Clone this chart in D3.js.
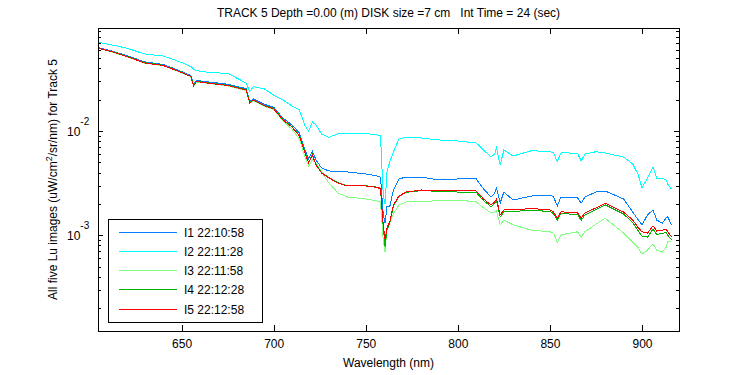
<!DOCTYPE html>
<html>
<head>
<meta charset="utf-8">
<script src="https://cdn.jsdelivr.net/npm/d3@7/dist/d3.min.js"></script>
<style>
  body { margin: 0; background: #fff; }
  svg text { font-family: "Liberation Sans", Arial, Helvetica, sans-serif; fill: #000; }
</style>
</head>
<body>
<svg width="750" height="375"></svg>
<script>

// Wavelength grid (nm)
let wavelength = [605, 612, 620, 630, 640, 650, 655, 656.5, 658, 665,
  675, 685, 687, 689, 695, 700, 705, 710, 714, 717,
  719, 721, 723, 726, 730, 735, 740, 750, 755, 758,
  759.5, 760.5, 761.5, 763, 765, 768, 772, 780, 790, 800,
  810, 814, 818, 820, 821, 823, 825, 830, 840, 850,
  852, 854, 856, 865, 867, 869, 875, 880, 890, 895,
  898, 900, 903, 906, 908, 911, 913, 914, 916];

// Lu for each image (uW/cm^2/sr/nm)
let luI1 = [0.0630, 0.0585, 0.0530, 0.0460, 0.0435, 0.0372, 0.0340, 0.0278, 0.0305, 0.0295,
  0.0281, 0.0255, 0.0192, 0.0204, 0.0180, 0.0169, 0.0133, 0.0114, 0.00957, 0.00657,
  0.00539, 0.00643, 0.00527, 0.00442, 0.00414, 0.00407, 0.00405, 0.00387, 0.00374, 0.00362,
  0.00157, 0.00131, 0.00187, 0.00187, 0.00272, 0.00347, 0.00362, 0.00362, 0.00339, 0.00347,
  0.00347, 0.00278, 0.00233, 0.00254, 0.00284, 0.00204, 0.00260, 0.00218, 0.00238, 0.00243,
  0.00233, 0.00191, 0.00233, 0.00228, 0.00204, 0.00233, 0.00260, 0.00266, 0.00223, 0.00167,
  0.00140, 0.00126, 0.00157, 0.00175, 0.00140, 0.00131, 0.00146, 0.00150, 0.00126];

let luI2 = [0.0709, 0.0668, 0.0625, 0.0547, 0.0524, 0.0454, 0.0415, 0.0393, 0.0379, 0.0364,
  0.0357, 0.0289, 0.0239, 0.0266, 0.0253, 0.0221, 0.0198, 0.0174, 0.0159, 0.0112,
  0.0100, 0.0122, 0.0114, 0.00936, 0.00866, 0.00946, 0.00936, 0.00946, 0.00926, 0.00896,
  0.00243, 0.00200, 0.00405, 0.00504, 0.00629, 0.00838, 0.00876, 0.00857, 0.00820, 0.00802,
  0.00767, 0.00657, 0.00563, 0.00602, 0.00687, 0.00472, 0.00657, 0.00576, 0.00647, 0.00636,
  0.00615, 0.00508, 0.00619, 0.00611, 0.00516, 0.00602, 0.00633, 0.00615, 0.00563, 0.00483,
  0.00379, 0.00284, 0.00354, 0.00452, 0.00354, 0.00352, 0.00339, 0.00310, 0.00278];

let luI3 = [0.0619, 0.0574, 0.0518, 0.0447, 0.0423, 0.0362, 0.0331, 0.0268, 0.0296, 0.0285,
  0.0271, 0.0245, 0.0184, 0.0196, 0.0172, 0.0161, 0.0125, 0.0104, 0.00838, 0.00563,
  0.00462, 0.00527, 0.00493, 0.00405, 0.00317, 0.00254, 0.00233, 0.00223, 0.00216, 0.00209,
  0.00090, 0.00069, 0.00118, 0.00134, 0.00160, 0.00195, 0.00209, 0.00209, 0.00216, 0.00218,
  0.00209, 0.00183, 0.00164, 0.00167, 0.00171, 0.00126, 0.00140, 0.00126, 0.00112, 0.00108,
  0.00105, 0.00086, 0.00101, 0.00108, 0.00096, 0.00108, 0.00128, 0.00146, 0.00105, 0.00086,
  0.00076, 0.00066, 0.00072, 0.00083, 0.00072, 0.00069, 0.00076, 0.00088, 0.00088];

let luI4 = [0.0624, 0.0580, 0.0523, 0.0452, 0.0428, 0.0366, 0.0335, 0.0272, 0.0300, 0.0289,
  0.0275, 0.0249, 0.0188, 0.0200, 0.0176, 0.0165, 0.0129, 0.0110, 0.00905, 0.00622,
  0.00498, 0.00595, 0.00478, 0.00400, 0.00357, 0.00320, 0.00299, 0.00299, 0.00292, 0.00283,
  0.00120, 0.00078, 0.00112, 0.00130, 0.00190, 0.00236, 0.00258, 0.00268, 0.00264, 0.00260,
  0.00258, 0.00215, 0.00188, 0.00202, 0.00216, 0.00150, 0.00168, 0.00169, 0.00174, 0.00169,
  0.00161, 0.00139, 0.00162, 0.00158, 0.00139, 0.00157, 0.00176, 0.00196, 0.00160, 0.00132,
  0.00110, 0.00098, 0.00096, 0.00115, 0.00102, 0.00104, 0.00107, 0.00100, 0.00091];

let luI5 = [0.0621, 0.0576, 0.0520, 0.0449, 0.0425, 0.0364, 0.0333, 0.0270, 0.0298, 0.0287,
  0.0273, 0.0247, 0.0186, 0.0198, 0.0174, 0.0163, 0.0128, 0.0109, 0.00896, 0.00615,
  0.00493, 0.00589, 0.00472, 0.00396, 0.00354, 0.00317, 0.00297, 0.00297, 0.00290, 0.00281,
  0.00126, 0.00090, 0.00118, 0.00134, 0.00195, 0.00238, 0.00260, 0.00272, 0.00269, 0.00266,
  0.00266, 0.00223, 0.00195, 0.00209, 0.00223, 0.00157, 0.00175, 0.00175, 0.00181, 0.00175,
  0.00167, 0.00146, 0.00168, 0.00164, 0.00146, 0.00164, 0.00183, 0.00203, 0.00167, 0.00140,
  0.00118, 0.00108, 0.00105, 0.00123, 0.00110, 0.00112, 0.00115, 0.00108, 0.00097];

let seriesNames = ['I1 22:10:58', 'I2 22:11:28', 'I3 22:11:58', 'I4 22:12:28', 'I5 22:12:58'];
let seriesColors = ['#0080ff', '#00ffff', '#80ff80', '#00b400', '#ff0000'];
let seriesValues = [luI1, luI2, luI3, luI4, luI5];

let xTicks = [650, 700, 750, 800, 850, 900];
let yMajorTicks = [1e-3, 1e-2];
let yMajorLabels = ['-3', '-2'];

let titleText = 'TRACK 5 Depth =0.00 (m) DISK size =7 cm   Int Time = 24 (sec)';
let xLabelText = 'Wavelength (nm)';

let svg = d3.select('svg');

// Plot box
let boxLeft = 98, boxRight = 679, boxTop = 28, boxBottom = 331;

let x = d3.scaleLinear().domain([604.6, 920.1]).range([boxLeft, boxRight]);
let y = d3.scaleLog().domain([1.209e-4, 0.0972]).range([boxBottom, boxTop]);

// minor ticks on log axis
let yMinorTicks = [];
[-4, -3, -2].forEach(k => {
  for (let m = 2; m <= 9; m++) {
    let v = m * Math.pow(10, k);
    if (v >= y.domain()[0] && v <= y.domain()[1]) yMinorTicks.push(v);
  }
});

// Curves
let line = d3.line()
  .x(d => x(d[0]))
  .y(d => y(d[1]));

svg.append('g')
    .attr('class', 'curves')
  .selectAll('path')
  .data(seriesValues)
  .enter().append('path')
    .attr('d', vals => line(wavelength.map((w, i) => [w, vals[i]])))
    .attr('fill', 'none')
    .attr('stroke', (d, i) => seriesColors[i])
    .attr('stroke-width', 1)
    .attr('shape-rendering', 'crispEdges');

// Axes (ticks inward)
let axisBottom = d3.axisBottom(x).tickValues(xTicks).tickSize(-6).tickPadding(8.5).tickFormat(d3.format('d'));
let axisTop = d3.axisTop(x).tickValues(xTicks).tickSize(-6).tickFormat('');
svg.append('g').attr('transform', `translate(0,${boxBottom})`).call(axisBottom);
svg.append('g').attr('transform', `translate(0,${boxTop})`).call(axisTop);

svg.append('g').attr('transform', `translate(${boxLeft},0)`)
  .call(d3.axisLeft(y).tickValues(yMajorTicks).tickSize(-5).tickFormat(''));
svg.append('g').attr('transform', `translate(${boxLeft},0)`)
  .call(d3.axisLeft(y).tickValues(yMinorTicks).tickSize(-3).tickFormat(''));
svg.append('g').attr('transform', `translate(${boxRight},0)`)
  .call(d3.axisRight(y).tickValues(yMajorTicks).tickSize(-5).tickFormat(''));
svg.append('g').attr('transform', `translate(${boxRight},0)`)
  .call(d3.axisRight(y).tickValues(yMinorTicks).tickSize(-3).tickFormat(''));

svg.selectAll('.domain').remove();
svg.selectAll('.tick line').attr('stroke', '#000').attr('shape-rendering', 'crispEdges');
svg.selectAll('.tick text').attr('font-size', 12).attr('fill', '#000')
  .style('font-family', '"Liberation Sans", Arial, sans-serif');

svg.append('rect')
    .attr('x', boxLeft).attr('y', boxTop)
    .attr('width', boxRight - boxLeft).attr('height', boxBottom - boxTop)
    .attr('fill', 'none').attr('stroke', '#000')
    .attr('shape-rendering', 'crispEdges');

// Y tick labels: 10 with exponent
let yLab = svg.append('g').selectAll('text')
  .data(yMajorTicks)
  .enter().append('text')
    .attr('x', 67)
    .attr('y', d => y(d) + 5)
    .attr('font-size', 12);
yLab.append('tspan').text('10');
yLab.append('tspan').attr('font-size', 10).attr('dy', -11.5).text((d, i) => yMajorLabels[i]);

// Titles
svg.append('text')
    .attr('x', (boxLeft + boxRight) / 2)
    .attr('y', 17)
    .attr('text-anchor', 'middle')
    .attr('font-size', 12)
    .style('white-space', 'pre')
    .text(titleText);

svg.append('text')
    .attr('x', (boxLeft + boxRight) / 2)
    .attr('y', 367)
    .attr('text-anchor', 'middle')
    .attr('font-size', 12)
    .text(xLabelText);

let yLabel = svg.append('text')
    .attr('transform', `translate(57,${(boxTop + boxBottom) / 2}) rotate(-90)`)
    .attr('text-anchor', 'middle')
    .attr('font-size', 12);
yLabel.append('tspan').text('All five Lu images (uW/cm');
yLabel.append('tspan').attr('font-size', 9).attr('dy', -5).text('2');
yLabel.append('tspan').attr('dy', 5).text('/sr/nm) for Track 5');

// Legend
let legend = svg.append('g').attr('class', 'legend');
legend.append('rect')
    .attr('x', 108).attr('y', 219)
    .attr('width', 154).attr('height', 103)
    .attr('fill', '#fff').attr('stroke', '#000')
    .attr('shape-rendering', 'crispEdges');

let rows = legend.selectAll('g.row')
  .data(seriesNames)
  .enter().append('g')
    .attr('class', 'row')
    .attr('transform', (d, i) => `translate(0,${232 + i * 19.25})`);
rows.append('line')
    .attr('x1', 119).attr('x2', 177)
    .attr('stroke', (d, i) => seriesColors[i])
    .attr('shape-rendering', 'crispEdges');
rows.append('text')
    .attr('x', 184).attr('y', 4.5)
    .attr('font-size', 12)
    .text(d => d);

</script>
</body>
</html>
